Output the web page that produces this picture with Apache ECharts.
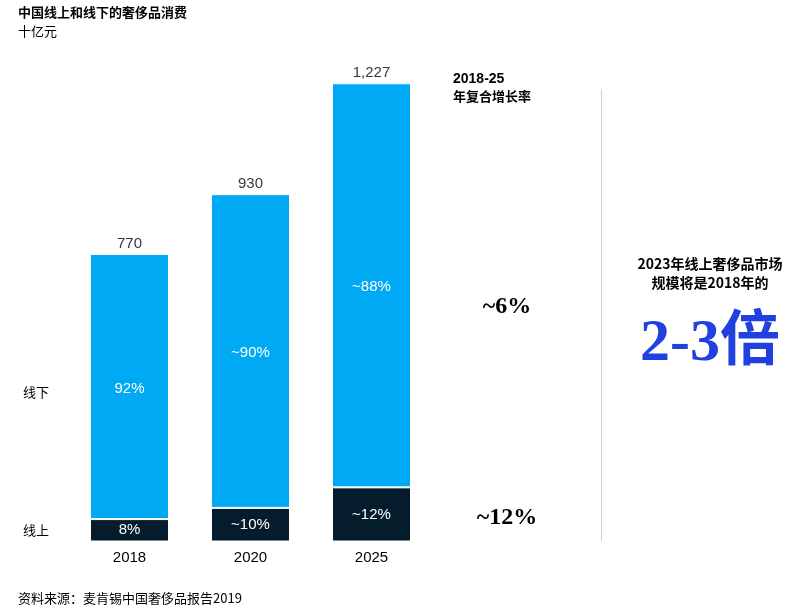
<!DOCTYPE html>
<html>
<head>
<meta charset="utf-8">
<script src="https://cdn.jsdelivr.net/npm/echarts@6/dist/echarts.min.js"></script>
<style>
  html, body { margin: 0; padding: 0; background: #fff; }
  #main { width: 806px; height: 611px; }
</style>
</head>
<body>
<div id="main"></div>
<script>
// 年份与数值（十亿元）
var years = ['2018', '2020', '2025'];
var totals = [770, 930, 1227];
var online = [60, 90, 145];
var offline = [710, 840, 1082];
var onlineShare = ['8%', '~10%', '~12%'];
var offlineShare = ['92%', '~90%', '~88%'];

var sans = '"Liberation Sans", Arial, "Noto Sans CJK SC", sans-serif';
var cjk = '"Noto Sans CJK SC", sans-serif';
var serif = '"Liberation Serif", "Noto Sans CJK SC", serif';

var chart = echarts.init(document.getElementById('main'));

var option = {
  backgroundColor: '#ffffff',
  animation: false,
  grid: { left: 69, right: 374, top: 56, bottom: 69.5 },
  xAxis: {
    type: 'category',
    data: years,
    axisLine: { show: false },
    axisTick: { show: false },
    axisLabel: { color: '#000', fontSize: 15, fontFamily: sans, margin: 9 }
  },
  yAxis: {
    type: 'value',
    min: 0,
    max: 1300,
    show: false
  },
  series: [{
    name: '线上',
    type: 'bar',
    stack: 'total',
    barWidth: 79,
    data: online,
    itemStyle: { color: '#051C2C', borderColor: '#ffffff', borderWidth: 1 },
    label: {
      show: true,
      position: 'inside',
      color: '#fff',
      fontSize: 15,
      fontFamily: sans,
      formatter: function (p) { return onlineShare[p.dataIndex]; }
    }
  }, {
    name: '线下',
    type: 'bar',
    stack: 'total',
    data: offline,
    itemStyle: { color: '#00A9F4', borderColor: '#ffffff', borderWidth: 1 },
    label: {
      show: true,
      position: 'inside',
      color: '#fff',
      fontSize: 15,
      fontFamily: sans,
      offset: [0, 2],
      formatter: function (p) { return offlineShare[p.dataIndex]; }
    }
  }, {
    name: '合计',
    type: 'scatter',
    data: totals,
    symbolSize: 0,
    silent: true,
    label: {
      show: true,
      position: 'top',
      distance: 3,
      color: '#000',
      fontSize: 15,
      fontFamily: sans,
      formatter: function (p) { return p.value.toLocaleString('en-US'); }
    }
  }],
  graphic: [
    { type: 'text', left: 18, top: 6, style: { text: '中国线上和线下的奢侈品消费', font: 'bold 13px ' + cjk, fill: '#000' } },
    { type: 'text', left: 18, top: 25, style: { text: '十亿元', font: '13px ' + cjk, fill: '#000' } },
    { type: 'text', left: 23, top: 386, style: { text: '线下', font: '13px ' + cjk, fill: '#000' } },
    { type: 'text', left: 23, top: 524, style: { text: '线上', font: '13px ' + cjk, fill: '#000' } },
    { type: 'text', left: 453, top: 72, style: { text: '2018-25', font: 'bold 14px ' + sans, fill: '#000' } },
    { type: 'text', left: 453, top: 90, style: { text: '年复合增长率', font: 'bold 13px ' + cjk, fill: '#000' } },
    { type: 'text', x: 507, y: 307, style: { text: '~6%', font: 'bold 24px ' + serif, fill: '#000', align: 'center', verticalAlign: 'middle' } },
    { type: 'text', x: 507, y: 518, style: { text: '~12%', font: 'bold 24px ' + serif, fill: '#000', align: 'center', verticalAlign: 'middle' } },
    { type: 'line', shape: { x1: 601.5, y1: 89, x2: 601.5, y2: 541 }, style: { stroke: '#d0d0d0', lineWidth: 1 } },
    { type: 'text', x: 710, y: 264, style: { text: '2023年线上奢侈品市场', font: 'bold 14px ' + cjk, fill: '#000', align: 'center', verticalAlign: 'middle' } },
    { type: 'text', x: 710, y: 283, style: { text: '规模将是2018年的', font: 'bold 14px ' + cjk, fill: '#000', align: 'center', verticalAlign: 'middle' } },
    { type: 'text', x: 710, y: 344, style: { text: '2-3倍', font: 'bold 60px ' + serif, fill: '#2140E0', align: 'center', verticalAlign: 'middle' } },
    { type: 'text', left: 18, top: 592, style: { text: '资料来源：麦肯锡中国奢侈品报告2019', font: '13px ' + cjk, fill: '#000' } }
  ]
};

chart.setOption(option);
</script>
</body>
</html>
